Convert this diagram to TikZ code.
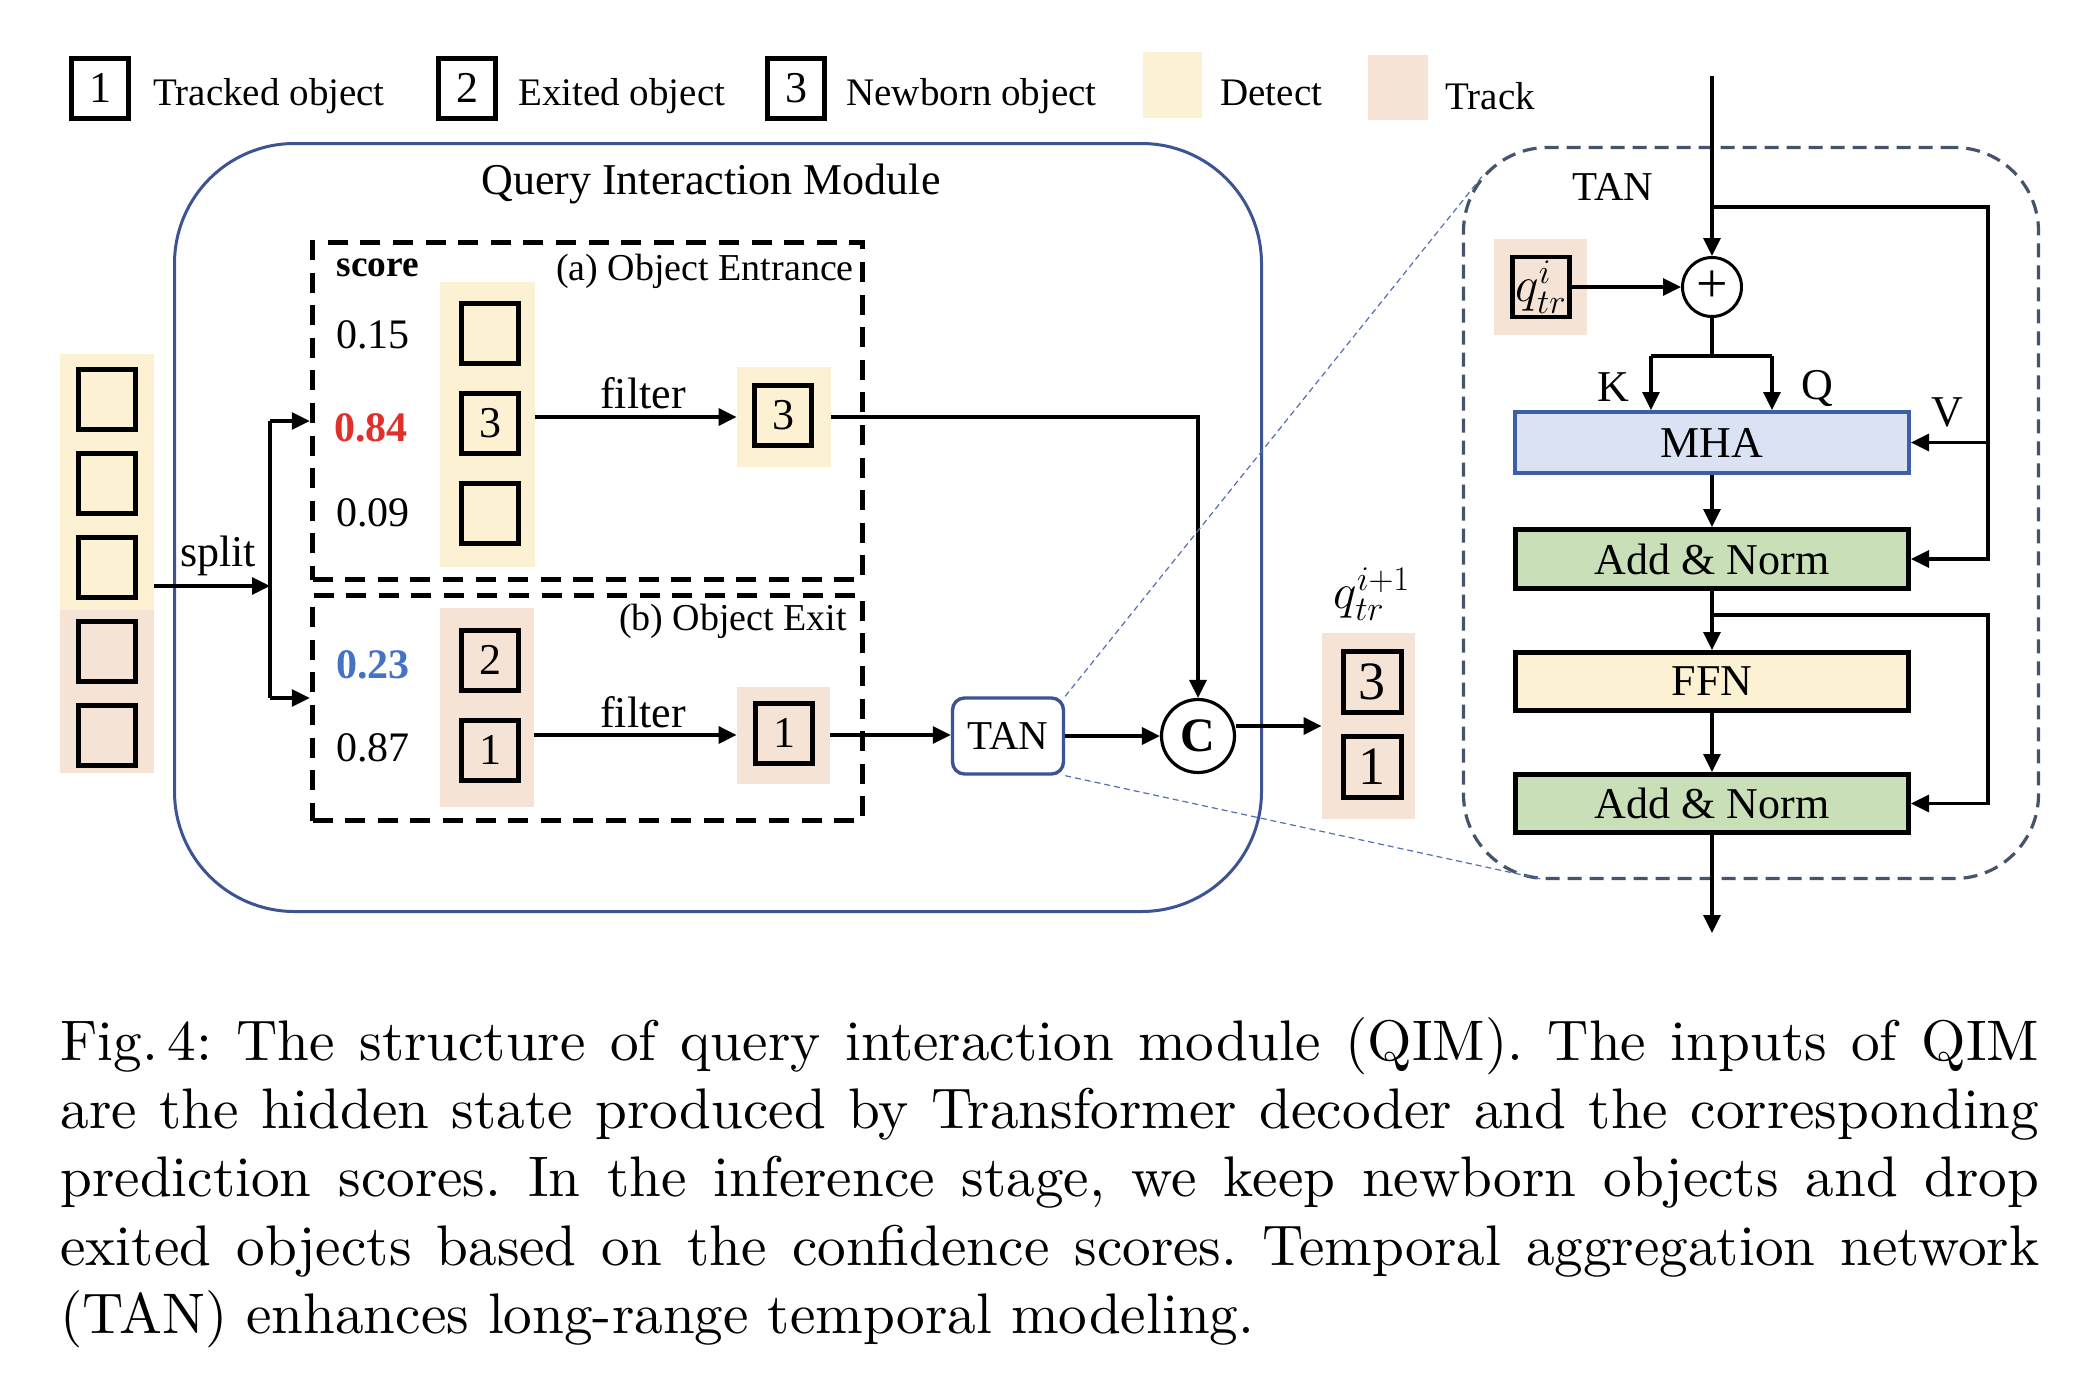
\documentclass[tikz,border=0pt]{standalone}
\usepackage{fontspec}
\newfontfamily\tnr{Liberation Serif}
\newfontfamily\capfont{lmroman10-regular}[Extension=.otf]
\usetikzlibrary{arrows.meta}
\newcommand\myfs[1]{\fontsize{#1}{#1}\selectfont}
\definecolor{detectc}{HTML}{FCF1D2}
\definecolor{trackc}{HTML}{F5E3D6}
\definecolor{qimblue}{HTML}{3C5394}
\definecolor{tanblue}{HTML}{44546A}
\definecolor{thinblue}{HTML}{5470B0}
\definecolor{mhafill}{HTML}{DAE3F3}
\definecolor{mhaborder}{HTML}{3E5EA6}
\definecolor{greenf}{HTML}{C8DFB8}
\definecolor{ffnf}{HTML}{FCF1D2}
\definecolor{redsc}{HTML}{E0302A}
\definecolor{bluesc}{HTML}{4472C4}
\begin{document}
\begin{tikzpicture}[x=0.5pt,y=-0.5pt,
  txt/.style={inner sep=0pt, font=\tnr\myfs{#1}},
  sq/.style={draw, line width=2.5pt, minimum width=28.5pt, minimum height=30pt, inner sep=0pt, font=\tnr\myfs{22}},
  sqbig/.style={draw, line width=2.5pt, minimum width=29pt, minimum height=30.5pt, inner sep=0pt, font=\tnr\myfs{27}},
  bgbox/.style={fill=#1, inner sep=0pt},
  dbox/.style={draw, line width=2.7pt, dash pattern=on 10pt off 6.3pt, inner sep=0pt},
  blk/.style={draw, line width=2.5pt, inner sep=0pt, minimum width=196.5pt, font=\tnr\myfs{22}},
  arr/.style={-{Triangle[length=9pt,width=8.5pt]}, line width=1.6pt},
  ln/.style={line width=1.6pt},
  zoomln/.style={thinblue, line width=0.6pt, dash pattern=on 3pt off 2pt},
]
\fill[white] (0,0) rectangle (2089,1397);
\useasboundingbox (0,0) rectangle (2089,1397);

% ---------------- legend
\node[sq] (lg1) at (100,88) {1};
\node[txt=19.5, anchor=base west] (lt1) at (153,105) {Tracked object};
\node[sq] (lg2) at (467,88) {2};
\node[txt=19.5, anchor=base west] (lt2) at (518,105) {Exited object};
\node[sq] (lg3) at (796,88) {3};
\node[txt=19.5, anchor=base west] (lt3) at (846,105) {Newborn object};
\node[bgbox=detectc, minimum width=29.5pt, minimum height=33pt] (lgD) at (1172.5,85) {};
\node[txt=19.5, anchor=base west] (ltD) at (1220,105) {Detect};
\node[bgbox=trackc, minimum width=30pt, minimum height=32.5pt] (lgT) at (1398,87.5) {};
\node[txt=19.5, anchor=base west] (ltT) at (1445,109) {Track};

% ---------------- QIM container
\node[draw=qimblue, line width=1.5pt, rounded corners=60pt, minimum width=543.5pt, minimum height=384pt, inner sep=0pt] (qim) at (718,527.5) {};
\node[txt=22] (qimtitle) at (711,184) {Query Interaction Module};

% ---------------- input column
\node[bgbox=detectc, minimum width=47pt, minimum height=128pt] (colLY) at (107,482) {};
\node[bgbox=trackc, minimum width=47pt, minimum height=81.5pt] (colLP) at (107,691.5) {};
\node[sq] (l1) at (107,399) {};
\node[sq] (l2) at (107,483) {};
\node[sq] (l3) at (107,567) {};
\node[sq] (l4) at (107,651) {};
\node[sq] (l5) at (107,735) {};

% ---------------- dashed boxes
\node[dbox, minimum width=275pt, minimum height=168.5pt] (boxa) at (587.5,411) {};
\node[dbox, minimum width=275pt, minimum height=112.5pt] (boxb) at (587.5,708) {};

% split
\coordinate (sp) at (270,586);
\coordinate (spT) at (270,421);
\coordinate (spB) at (270,698);
\draw[arr] (sp -| colLY.east) -- (sp);
\node[txt=22] (splitlbl) at (218,556) {split};
\draw[ln] (spT) -- (spB);
\draw[arr] (spT) -- (spT -| boxa.west);
\draw[arr] (spB) -- (spB -| boxb.west);

% ---------------- (a) object entrance
\node[txt=18.7, font=\tnr\bfseries\myfs{18.7}] (score) at (378,268) {score};
\node[txt=19] (alabel) at (705,271) {(a) Object Entrance};
\node[txt=21] (s1) at (373,335) {0.15};
\node[txt=21, text=redsc, font=\tnr\bfseries\myfs{21}] (s2) at (371,428) {0.84};
\node[txt=21] (s3) at (373,513) {0.09};
\node[bgbox=detectc, minimum width=47.5pt, minimum height=142.5pt] (colA) at (487.5,424.5) {};
\node[sq] (a1) at (490,333) {};
\node[sq] (a2) at (490,423) {3};
\node[sq] (a3) at (490,513) {};
\node[bgbox=detectc, minimum width=47pt, minimum height=50pt] (smallA) at (784,417) {};
\node[sq] (sa) at (783,415) {3};
\draw[arr] (colA.east |- smallA) -- (smallA.west);
\node[txt=22] (filterA) at (643,393) {filter};

% ---------------- (b) object exit
\node[txt=19] (blabel) at (733,621) {(b) Object Exit};
\node[txt=21, text=bluesc, font=\tnr\bfseries\myfs{21}] (s4) at (373,665) {0.23};
\node[txt=21] (s5) at (373,748) {0.87};
\node[bgbox=trackc, minimum width=47pt, minimum height=99.5pt] (colB) at (487,707.5) {};
\node[sq] (b1) at (490,660) {2};
\node[sq] (b2) at (490,750) {1};
\node[bgbox=trackc, minimum width=46.5pt, minimum height=48.5pt] (smallB) at (783.5,735) {};
\node[sq] (sb) at (784,733) {1};
\draw[arr] (colB.east |- smallB) -- (smallB.west);
\node[txt=22] (filterB) at (643,712) {filter};

% ---------------- TAN, concat, output
\node[draw=qimblue, line width=1.7pt, rounded corners=6pt, minimum width=55.5pt, minimum height=38pt, inner sep=0pt, font=\tnr\myfs{20.5}] (tan) at (1008,736) {TAN};
\node[draw, circle, line width=1.6pt, minimum size=36.5pt, inner sep=0pt, font=\tnr\bfseries\myfs{24}] (cc) at (1198,736) {C};
\draw[arr] (smallB.east) -- (smallB.east -| tan.west);
\draw[arr] (tan.east |- cc) -- (cc.west);
\draw[arr] (smallA.east) -- (smallA.east -| cc) -- (cc.north);
\node[bgbox=trackc, minimum width=46.5pt, minimum height=93pt] (outcol) at (1368.5,726) {};
\node[sqbig] (o1) at (1372,682) {3};
\node[sqbig] (o2) at (1372,767) {1};
\node[inner sep=0pt, font=\myfs{25}] (qout) at (1372,594) {$q_{tr}^{i+1}$};
\draw[arr] (cc.east |- outcol) -- (outcol.west);

% ---------------- TAN detail
\node[draw=tanblue, line width=1.6pt, dash pattern=on 7pt off 4pt, rounded corners=42pt, minimum width=287.5pt, minimum height=365.5pt, inner sep=0pt] (tanbig) at (1751,513) {};
\coordinate (z1) at (1484,174);
\coordinate (z2) at (1541,879);
\draw[zoomln] (tan.north east) -- (z1);
\draw[zoomln] (tan.south east) -- (z2);
\node[txt=20.5] (tantitle) at (1613,187) {TAN};

\coordinate (inp) at (1712,76);
\coordinate (br1) at (1712,207);
\coordinate (rt1) at (1988,207);
\node[draw, circle, line width=1.5pt, minimum size=29.5pt, inner sep=0pt, font=\tnr\myfs{28}] (plus) at (1712,287) {+};
\node[bgbox=trackc, minimum width=46.5pt, minimum height=48pt] (qbg) at (1540.5,287) {};
\node[sq, line width=2.2pt, font=\myfs{24}] (qin) at (1541,287) {$q^{i}_{tr}$};
\draw[arr] (inp) -- (plus.north);
\draw[arr] (qin.east) -- (plus.west);

\node[blk, draw=mhaborder, line width=2pt, fill=mhafill, minimum width=197pt, minimum height=30.5pt] (mha) at (1712,442.5) {MHA};
\node[blk, fill=greenf, minimum height=29.5pt] (an1) at (1712,559) {Add \& Norm};
\node[blk, fill=ffnf, minimum height=29pt] (ffn) at (1712,681.5) {FFN};
\node[blk, fill=greenf, minimum height=29pt] (an2) at (1712,803.5) {Add \& Norm};

\coordinate (ksplit) at (1712,356);
\coordinate (kpt) at (1651,356);
\coordinate (qpt) at (1772,356);
\draw[ln] (plus.south) -- (ksplit);
\draw[ln] (kpt) -- (qpt);
\draw[arr] (kpt) -- (kpt |- mha.north);
\draw[arr] (qpt) -- (qpt |- mha.north);
\node[txt=22] (klbl) at (1613,387) {K};
\node[txt=22] (qlbl) at (1817,388) {Q};
\node[txt=22] (vlbl) at (1947,412) {V};

\draw[arr] (br1) -- (rt1) -- (rt1 |- an1) -- (an1.east);
\draw[arr] (rt1 |- mha) -- (mha.east);
\draw[arr] (mha.south) -- (an1.north);
\draw[arr] (an1.south) -- (ffn.north);
\coordinate (br2) at (1712,615);
\draw[arr] (br2) -- (br2 -| rt1) -- (rt1 |- an2) -- (an2.east);
\draw[arr] (ffn.south) -- (an2.north);
\coordinate (outp) at (1712,933);
\draw[arr] (an2.south) -- (outp);

% ---------------- caption
\node[anchor=base west, inner sep=0pt] (cap) at (60,1060) {\parbox[t]{989.5pt}{\capfont\fontsize{28.6}{34.2}\selectfont\hyphenpenalty=10000\frenchspacing
Fig.\,4: The structure of query interaction module (QIM). The inputs of QIM\linebreak
are the hidden state produced by Transformer decoder and the corresponding\linebreak
prediction scores. In the inference stage, we keep newborn objects and drop\linebreak
exited objects based on the confidence scores. Temporal aggregation network\linebreak
(TAN) enhances long-range temporal modeling.}};
\end{tikzpicture}
\end{document}
